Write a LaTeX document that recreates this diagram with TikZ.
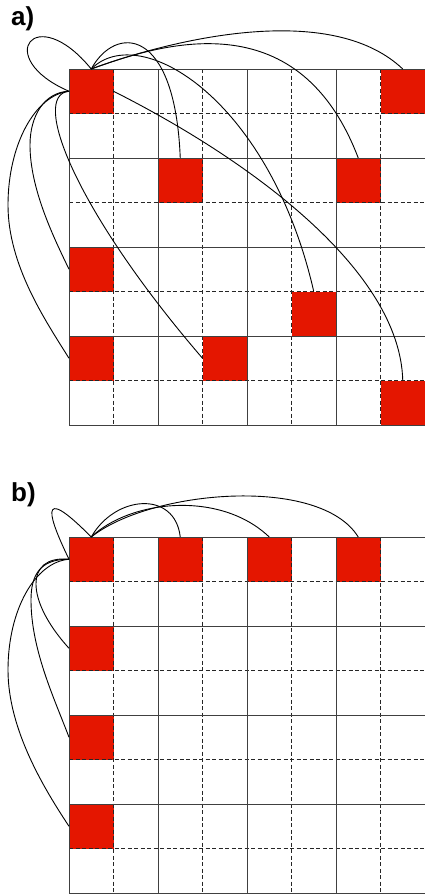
\documentclass[tikz,border=0pt]{standalone}
\usepackage{fontspec}
\setmainfont{Liberation Sans}
\definecolor{cellred}{RGB}{228,22,0}
\begin{document}
\begin{tikzpicture}[x=1pt,y=-1pt,
  redcell/.style={fill=cellred, draw=none, minimum width=44.5pt, minimum height=44.5pt, inner sep=0pt, outer sep=0pt},
  solidline/.style={draw=black!75, line width=0.9pt},
  dashline/.style={draw=black!85, line width=0.8pt, dash pattern=on 4pt off 2.5pt},
  link/.style={draw=black, line width=0.9pt},
  lab/.style={font=\bfseries\fontsize{26}{26}\selectfont, anchor=base west, inner sep=0pt}]
\useasboundingbox (0,0) rectangle (425,894);

% ---------- panel a: red cells ----------
\node[redcell] (a00) at (91.25,91.25) {};
\node[redcell] (a70) at (402.75,91.25) {};
\node[redcell] (a22) at (180.25,180.25) {};
\node[redcell] (a62) at (358.25,180.25) {};
\node[redcell] (a04) at (91.25,269.25) {};
\node[redcell] (a55) at (313.75,313.75) {};
\node[redcell] (a06) at (91.25,358.25) {};
\node[redcell] (a36) at (224.75,358.25) {};
\node[redcell] (a77) at (402.75,402.75) {};

% ---------- panel b: red cells ----------
\node[redcell] (b00) at (91.25,559.25) {};
\node[redcell] (b20) at (180.25,559.25) {};
\node[redcell] (b40) at (269.25,559.25) {};
\node[redcell] (b60) at (358.25,559.25) {};
\node[redcell] (b02) at (91.25,648.25) {};
\node[redcell] (b04) at (91.25,737.25) {};
\node[redcell] (b06) at (91.25,826.25) {};

% ---------- grids ----------
\foreach \oy in {69,537} {
  \foreach \k in {1,3,5,7} {
    \draw[dashline] (69,{\oy+44.5*\k}) -- (425,{\oy+44.5*\k});
    \draw[dashline] ({69+44.5*\k},\oy) -- ({69+44.5*\k},{\oy+356});
  }
  \foreach \k in {0,2,4,6,8} {
    \draw[solidline] (69,{\oy+44.5*\k}) -- (425,{\oy+44.5*\k});
    \draw[solidline] ({69+44.5*\k},\oy) -- ({69+44.5*\k},{\oy+356});
  }
}

% ---------- labels ----------
\node[lab] (la) at (11,25) {a)};
\node[lab] (lb) at (11,501) {b)};

% ---------- panel a: links ----------
\draw[link] (a00.north) .. controls (35,0) and (-8,58) .. (a00.west);
\draw[link] (a00.north) .. controls (170,40) and (330,0) .. (a70.north);
\draw[link] (a00.north) .. controls (170,40) and (300,5) .. (a62.north);
\draw[link] (a00.north) .. controls (115,25) and (175,25) .. (a22.north);
\draw[link] (a00.north) .. controls (140,20) and (270,100) .. (a55.north);
\draw[link] (a00.east) .. controls (250,160) and (400,270) .. (a77.north);
\draw[link] (a00.west) .. controls (45,92) and (30,115) .. (30,145) .. controls (30,190) and (55,240) .. (a04.west);
\draw[link] (a00.west) .. controls (35,95) and (8,145) .. (8,205) .. controls (8,265) and (45,320) .. (a06.west);
\draw[link] (a00.west) .. controls (30,95) and (75,210) .. (a36.west);

% ---------- panel b: links ----------
\draw[link] (b00.north) .. controls (35,480) and (50,520) .. (b00.west);
\draw[link] (b00.north) .. controls (115,495) and (175,490) .. (b20.north);
\draw[link] (b00.north) .. controls (130,500) and (220,490) .. (b40.north);
\draw[link] (b00.north) .. controls (150,490) and (320,475) .. (b60.north);
\draw[link] (b00.west) .. controls (25,555) and (25,600) .. (b02.west);
\draw[link] (b00.west) .. controls (40,559) and (31,575) .. (31,600) .. controls (31,650) and (55,700) .. (b04.west);
\draw[link] (b00.west) .. controls (35,562) and (8,610) .. (8,670) .. controls (8,730) and (45,790) .. (b06.west);
\end{tikzpicture}
\end{document}
